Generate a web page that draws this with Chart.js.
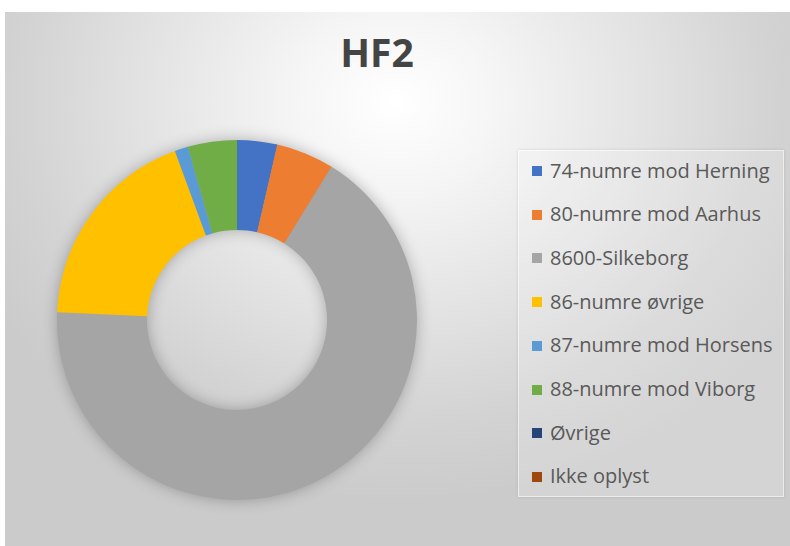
<!DOCTYPE html>
<html>
<head>
<meta charset="utf-8">
<script src="https://cdn.jsdelivr.net/npm/chart.js@4.4.1/dist/chart.umd.min.js"></script>
<style>
    html, body { margin: 0; padding: 0; background: #fff; }
    #frame {
        position: absolute; left: 5px; top: 12px; width: 785px; height: 534px;
        background: radial-gradient(ellipse 470px 400px at 390px 90px, #ffffff 0%, #f5f5f5 22%, #e2e2e2 55%, #d3d3d3 80%, #cbcbcb 100%);
        overflow: hidden;
    }
    #chartTitle {
        position: absolute; left: 0; width: 744px; top: 20px;
        text-align: center; font: bold 39px "Open Sans", sans-serif; line-height: 39px;
        color: #444;
    }
    #legendBox {
        position: absolute; left: 513px; top: 138px; width: 264px; height: 345px;
        background: rgba(255, 255, 255, 0.18);
        border: 1px solid rgba(255, 255, 255, 0.55);
        box-shadow: 0 0 3px rgba(0, 0, 0, 0.12);
    }
    .legend-item {
        position: absolute; left: 13px; height: 24px;
        display: flex; align-items: center;
        font: 20px "Open Sans", sans-serif; color: #595959; white-space: nowrap;
    }
    .legend-item span.box { width: 10px; height: 10px; margin-right: 8px; margin-top: 2px; }
    #chartCanvas { position: absolute; left: 0; top: 0; }
</style>
</head>
<body>
<div id="frame">
    <div id="chartTitle">HF2</div>
    <div id="legendBox"></div>
</div>
<canvas id="chartCanvas" width="790" height="546"></canvas>
<script>
const labels = [
    '74-numre mod Herning',
    '80-numre mod Aarhus',
    '8600-Silkeborg',
    '86-numre øvrige',
    '87-numre mod Horsens',
    '88-numre mod Viborg',
    'Øvrige',
    'Ikke oplyst'
];
const shares = [3.6, 5.2, 66.8, 18.7, 1.2, 4.4, 0, 0];
const sliceColors = ['#4472C4', '#ED7D31', '#A5A5A5', '#FFC000', '#5B9BD5', '#70AD47', '#264478', '#9E480E'];

// soft shadow under the ring, drawn before the slices
const ringShadow = {
    id: 'ringShadow',
    beforeDatasetsDraw(chart) {
        const arc = chart.getDatasetMeta(0).data[0];
        if (!arc) return;
        const { x, y, outerRadius, innerRadius } = arc;
        const ctx = chart.ctx;
        ctx.save();
        ctx.shadowColor = 'rgba(0, 0, 0, 0.3)';
        ctx.shadowBlur = 16;
        ctx.fillStyle = '#A5A5A5';
        ctx.beginPath();
        ctx.arc(x, y, outerRadius - 1, 0, Math.PI * 2);
        ctx.arc(x, y, innerRadius + 1, Math.PI * 2, 0, true);
        ctx.fill();
        ctx.restore();
    }
};

const chart = new Chart(document.getElementById('chartCanvas'), {
    type: 'doughnut',
    data: {
        labels: labels,
        datasets: [{
            data: shares,
            backgroundColor: sliceColors,
            borderWidth: 0
        }]
    },
    options: {
        responsive: false,
        animation: false,
        cutout: '50%',
        layout: { padding: { left: 57, right: 373, top: 140, bottom: 46 } },
        plugins: {
            legend: { display: false },
            title: { display: false },
            tooltip: { enabled: false }
        }
    },
    plugins: [ringShadow]
});

// legend in html, items taken from the chart itself
const legendBox = document.getElementById('legendBox');
const items = Chart.overrides.doughnut.plugins.legend.labels.generateLabels(chart);
legendBox.innerHTML = items.map((item, i) => `
    <div class="legend-item" style="top:${7 + i * 43.7}px">
        <span class="box" style="background:${item.fillStyle}"></span>${item.text}
    </div>
`).join('');
</script>
</body>
</html>
